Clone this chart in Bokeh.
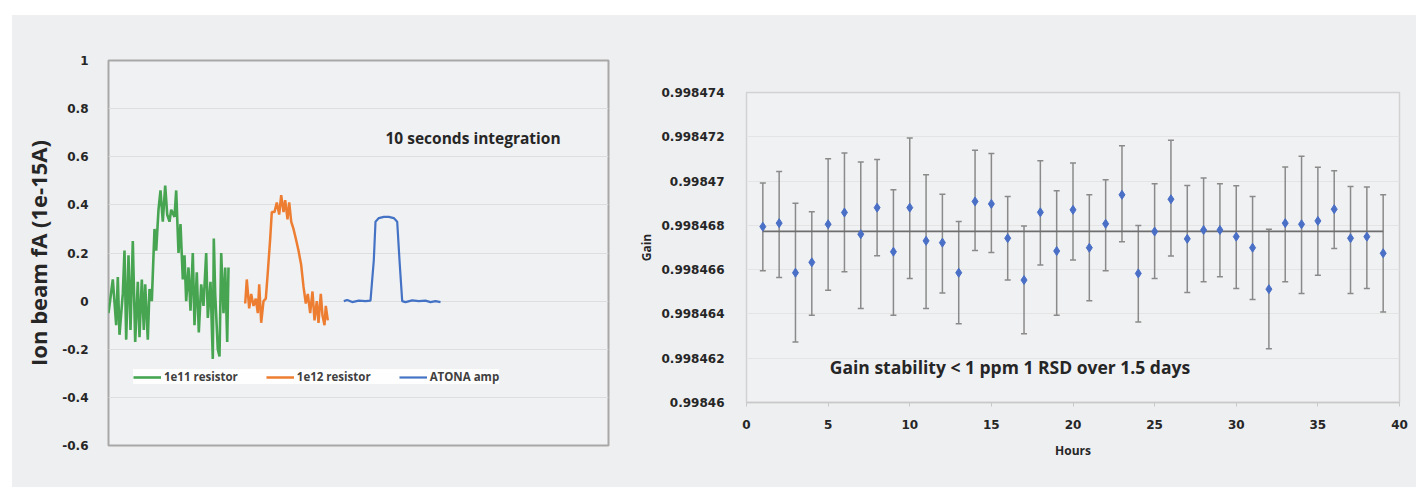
from bokeh.plotting import figure
from bokeh.layouts import row, column
from bokeh.models import (ColumnDataSource, Whisker, TeeHead, Label, Legend, LegendItem,
                          FixedTicker, CustomJSTickFormatter)
from bokeh.embed import file_html
from bokeh.resources import INLINE

# ---------------- Left chart data (sample index vs ion beam fA) ----------------
green_x = [0, 4.3, 7.7, 9.3, 11, 14.3, 16, 17.7, 20, 22, 24.3, 26.7, 29.3, 31, 33.3, 35.3, 36.7,
           39.3, 41, 43.3, 46, 47.7, 50, 52, 54.3, 56.7, 58.7, 61, 62.7, 66, 67.7, 70, 72, 74.3,
           76, 77.7, 80, 82, 84.3, 86, 88.3, 90.3, 92.7, 95, 97.7, 99.3, 102, 104.3, 105.3, 106.7,
           109.3, 111, 112.7, 115, 116.7, 118.7, 120]
green_y = [-0.05, 0.09, -0.10, 0.10, -0.14, 0.03, 0.21, -0.16, 0.19, -0.12, 0.25, -0.17, 0.08,
           -0.15, 0.09, -0.12, 0.07, -0.16, 0.05, 0.0, 0.30, 0.21, 0.38, 0.46, 0.33, 0.48, 0.36,
           0.33, 0.38, 0.35, 0.46, 0.20, 0.32, 0.09, 0.19, 0.0, 0.14, -0.04, 0.20, -0.10, 0.12,
           -0.13, 0.07, -0.02, 0.20, -0.07, 0.08, -0.24, 0.26, 0.03, -0.20, -0.23, 0.20, -0.05,
           0.14, -0.17, 0.14]

orange_x = [136.7, 138.3, 140.7, 142.7, 145, 147.3, 149.3, 150.7, 152.7, 155, 157.3, 159.3, 161.7,
            163.3, 166, 168.3, 170.7, 172.7, 175, 176.7, 179, 180.7, 182.7, 185, 187.3, 190, 192.7,
            195, 197.3, 199.3, 201.7, 204, 206, 208.3, 210, 212.3, 214, 216, 217.3, 219.3]
orange_y = [-0.01, 0.09, -0.03, 0.03, -0.02, 0.01, -0.05, 0.07, -0.09, 0.0, 0.01, 0.12, 0.26,
            0.37, 0.37, 0.41, 0.36, 0.44, 0.37, 0.42, 0.34, 0.41, 0.33, 0.30, 0.26, 0.21, 0.15,
            0.06, -0.01, 0.03, -0.05, 0.04, -0.08, 0.0, -0.09, 0.03, -0.06, -0.10, -0.02, -0.08]

blue_x = [235.3, 238.7, 243.7, 250.3, 257, 262, 265.3, 267, 270.3, 275.3, 280.3, 285.3, 288.7,
          291, 293.7, 297, 303.7, 310.3, 317, 322, 327, 332]
blue_y = [0.0, 0.005, -0.004, 0.002, 0.0, 0.002, 0.17, 0.33, 0.345, 0.35, 0.35, 0.345, 0.33,
          0.17, 0.0, -0.004, 0.003, 0.0, 0.002, -0.004, 0.0, -0.004]

left_yticks = [-0.6, -0.4, -0.2, 0, 0.2, 0.4, 0.6, 0.8, 1]
series_names = ["1e11 resistor", "1e12 resistor", "ATONA amp"]

# ---------------- Right chart data (gain vs hours) ----------------
hours = list(range(1, 40))
gain = [0.99846794, 0.99846810, 0.99846586, 0.99846633, 0.99846805, 0.99846858, 0.99846760,
        0.99846880, 0.99846681, 0.99846880, 0.99846730, 0.99846722, 0.99846586, 0.99846908,
        0.99846897, 0.99846742, 0.99846553, 0.99846859, 0.99846684, 0.99846870, 0.99846699,
        0.99846807, 0.99846938, 0.99846583, 0.99846772, 0.99846918, 0.99846739, 0.99846779,
        0.99846779, 0.99846749, 0.99846699, 0.99846512, 0.99846810, 0.99846805, 0.99846820,
        0.99846873, 0.99846742, 0.99846749, 0.99846674]
gain_upper = [0.99846991, 0.99847043, 0.99846900, 0.99846862, 0.99847101, 0.99847127, 0.99847086,
              0.99847097, 0.99846961, 0.99847195, 0.99847029, 0.99846941, 0.99846817, 0.99847139,
              0.99847124, 0.99846930, 0.99846797, 0.99847092, 0.99846956, 0.99847082, 0.99846938,
              0.99847006, 0.99847160, 0.99846799, 0.99846988, 0.99847184, 0.99846980, 0.99847014,
              0.99846988, 0.99846979, 0.99846930, 0.99846782, 0.99847063, 0.99847112, 0.99847062,
              0.99847047, 0.99846976, 0.99846973, 0.99846938]
gain_lower = [0.99846595, 0.99846565, 0.99846273, 0.99846394, 0.99846507, 0.99846590, 0.99846424,
              0.99846663, 0.99846394, 0.99846560, 0.99846424, 0.99846495, 0.99846356, 0.99846686,
              0.99846677, 0.99846553, 0.99846311, 0.99846621, 0.99846394, 0.99846643, 0.99846459,
              0.99846595, 0.99846726, 0.99846364, 0.99846560, 0.99846662, 0.99846497, 0.99846545,
              0.99846568, 0.99846515, 0.99846465, 0.99846243, 0.99846545, 0.99846492, 0.99846575,
              0.99846696, 0.99846492, 0.99846515, 0.99846409]
mean_hours = [1, 39]
mean_gain = 0.99846773
right_yticks = [0.99846, 0.998462, 0.998464, 0.998466, 0.998468, 0.99847, 0.998472, 0.998474]
right_xticks = [0, 5, 10, 15, 20, 25, 30, 35, 40]

BG = "#eeeff1"
TICK_FONT = "DejaVu Sans"
TXT_FONT = "Open Sans"
DARK = "#262626"

# ---------------- Left figure ----------------
p1 = figure(width=608, height=472, x_range=(0, 500), y_range=(-0.6, 1),
            output_backend="svg", toolbar_location=None,
            min_border_left=96, min_border_right=12, min_border_top=45, min_border_bottom=42)
p1.background_fill_color = "#f0f1f3"
p1.border_fill_color = BG
p1.outline_line_color = "#a8a8a8"
p1.outline_line_width = 2
p1.xaxis.visible = False
p1.xgrid.visible = False
p1.ygrid.grid_line_color = "#dedede"
p1.yaxis.ticker = FixedTicker(ticks=left_yticks)
p1.yaxis.formatter = CustomJSTickFormatter(code="return String(Math.round(tick*10)/10);")
p1.yaxis.axis_line_color = None
p1.yaxis.major_tick_line_color = None
p1.yaxis.minor_tick_line_color = None
p1.yaxis.major_label_standoff = 14
p1.yaxis.major_label_text_font = TICK_FONT
p1.yaxis.major_label_text_font_style = "bold"
p1.yaxis.major_label_text_font_size = "12px"
p1.yaxis.major_label_text_color = DARK
p1.yaxis.axis_label = "Ion beam fA (1e-15A)"
p1.yaxis.axis_label_text_font = TXT_FONT
p1.yaxis.axis_label_text_font_style = "bold"
p1.yaxis.axis_label_text_font_size = "22px"
p1.yaxis.axis_label_text_color = DARK
p1.yaxis.axis_label_standoff = 6

r_g = p1.line(green_x, green_y, line_color="#47a552", line_width=2.6)
r_o = p1.line(orange_x, orange_y, line_color="#ed7d31", line_width=2.5)
r_b = p1.line(blue_x, blue_y, line_color="#4472c4", line_width=2.2)

legend = Legend(items=[LegendItem(label=series_names[0], renderers=[r_g]),
                       LegendItem(label=series_names[1], renderers=[r_o]),
                       LegendItem(label=series_names[2], renderers=[r_b])],
                orientation="horizontal", location=(25, 61))
legend.background_fill_color = "white"
legend.background_fill_alpha = 0.9
legend.border_line_color = None
legend.label_text_font = TXT_FONT
legend.label_text_font_style = "bold"
legend.label_text_font_size = "11.5px"
legend.label_text_color = "#404040"
legend.glyph_width = 28
legend.glyph_height = 12
legend.label_standoff = 3
legend.spacing = 28
legend.padding = 4
legend.margin = 0
legend.label_height = 12
p1.add_layout(legend)

p1.add_layout(Label(x=277, y=0.68, text="10 seconds integration", text_font=TXT_FONT,
                    text_font_style="bold", text_font_size="15.5px", text_color=DARK,
                    text_baseline="middle", text_align="left"))

# ---------------- Right figure ----------------
p2 = figure(width=796, height=472, x_range=(0, 40), y_range=(0.99846, 0.998474),
            output_backend="svg", toolbar_location=None,
            min_border_left=126, min_border_right=17, min_border_top=77, min_border_bottom=85)
p2.background_fill_color = "#f0f1f3"
p2.border_fill_color = BG
p2.outline_line_color = "#d2d2d2"
p2.outline_line_width = 1.5
p2.xgrid.visible = False
p2.ygrid.grid_line_color = "#e4e4e4"

p2.yaxis.ticker = FixedTicker(ticks=right_yticks)
p2.yaxis.formatter = CustomJSTickFormatter(code="return tick.toFixed(6).replace(/0+$/, '');")
p2.yaxis.axis_line_color = None
p2.yaxis.major_tick_line_color = None
p2.yaxis.minor_tick_line_color = None
p2.yaxis.major_label_standoff = 16
p2.yaxis.axis_label = "Gain"
p2.yaxis.axis_label_standoff = 3

p2.xaxis.ticker = FixedTicker(ticks=right_xticks)
p2.xaxis.axis_line_color = "#c8c8c8"
p2.xaxis.axis_line_width = 1.5
p2.xaxis.major_tick_line_color = "#c8c8c8"
p2.xaxis.major_tick_in = 0
p2.xaxis.major_tick_out = 4
p2.xaxis.minor_tick_line_color = None
p2.xaxis.major_label_standoff = 13
p2.xaxis.axis_label = "Hours"
p2.xaxis.axis_label_standoff = 10

for ax in (p2.xaxis[0], p2.yaxis[0]):
    ax.major_label_text_font = TICK_FONT
    ax.major_label_text_font_style = "bold"
    ax.major_label_text_font_size = "12px"
    ax.major_label_text_color = DARK
    ax.axis_label_text_font = TXT_FONT
    ax.axis_label_text_font_style = "bold"
    ax.axis_label_text_font_size = "12px"
    ax.axis_label_text_color = DARK

src = ColumnDataSource(dict(hours=hours, gain=gain, upper=gain_upper, lower=gain_lower))
p2.add_layout(Whisker(source=src, base="hours", upper="upper", lower="lower",
                      dimension="height", line_color="#8a8a8a", line_width=1.5,
                      upper_head=TeeHead(size=6, line_color="#8a8a8a", line_width=1.5),
                      lower_head=TeeHead(size=6, line_color="#8a8a8a", line_width=1.5)))
p2.line(mean_hours, [mean_gain, mean_gain], line_color="#6e6e6e", line_width=1.6)
p2.scatter("hours", "gain", source=src, marker="diamond", size=9,
           fill_color="#4a6fc6", line_color="#4a6fc6")

p2.add_layout(Label(x=5.1, y=0.9984616, text="Gain stability < 1 ppm 1 RSD over 1.5 days",
                    text_font=TXT_FONT, text_font_style="bold", text_font_size="17.5px",
                    text_color=DARK, text_baseline="middle", text_align="left"))

c1 = column(p1)
c2 = column(p2)
layout = row(c1, c2, margin=(15, 0, 0, 12), styles={"background-color": BG})
open("out.html", "w").write(file_html(layout, INLINE))
